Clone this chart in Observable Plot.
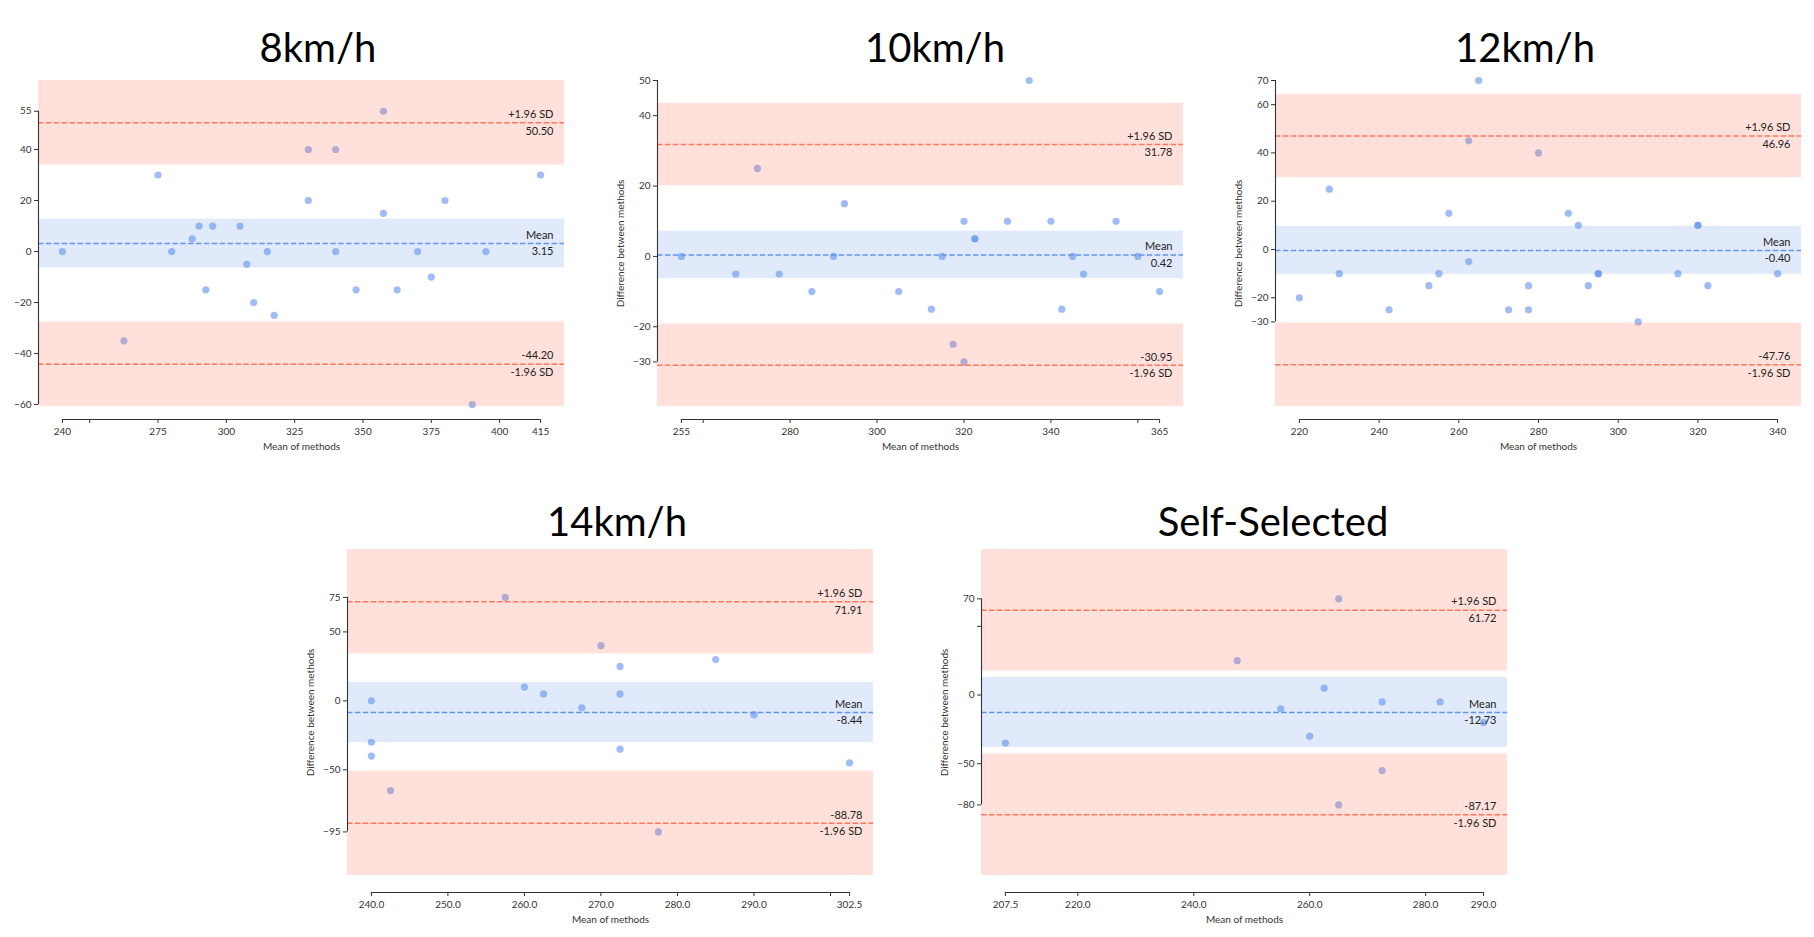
<!DOCTYPE html>
<html><head><meta charset="utf-8">
<script src="https://cdn.jsdelivr.net/npm/d3@7"></script>
<script src="https://cdn.jsdelivr.net/npm/@observablehq/plot@0.6"></script>
<style>
html,body{margin:0;padding:0;background:#fff;}
#page{position:relative;width:1814px;height:937px;overflow:hidden;}
.panel{position:absolute;}
#titles{position:absolute;left:0;top:0;pointer-events:none;}
</style></head><body><div id="page"></div>
<script>
// ---------- data ----------
const titles = ["8km/h", "10km/h", "12km/h", "14km/h", "Self-Selected"];

const means8 = [240, 262.5, 275, 280, 287.5, 290, 292.5, 295, 305, 307.5, 310, 315, 317.5, 330, 330, 340, 340, 347.5, 357.5, 357.5, 362.5, 370, 375, 380, 390, 395, 415];
const diffs8 = [0, -35, 30, 0, 5, 10, -15, 10, 10, -5, -20, 0, -25, 40, 20, 40, 0, -15, 55, 15, -15, 0, -10, 20, -60, 0, 30];

const means10 = [255, 267.5, 272.5, 277.5, 285, 290, 292.5, 305, 312.5, 315, 317.5, 320, 320, 322.5, 322.5, 330, 335, 340, 342.5, 345, 347.5, 355, 360, 365];
const diffs10 = [0, -5, 25, -5, -10, 0, 15, -10, -15, 0, -25, 10, -30, 5, 5, 10, 50, 10, -15, 0, -5, 10, 0, -10];

const means12 = [220, 227.5, 230, 242.5, 252.5, 255, 257.5, 262.5, 262.5, 265, 272.5, 277.5, 277.5, 280, 287.5, 290, 292.5, 295, 295, 305, 315, 320, 320, 322.5, 340];
const diffs12 = [-20, 25, -10, -25, -15, -10, 15, -5, 45, 70, -25, -15, -25, 40, 15, 10, -15, -10, -10, -30, -10, 10, 10, -15, -10];

const means14 = [240, 240, 240, 242.5, 257.5, 260, 262.5, 267.5, 270, 272.5, 272.5, 272.5, 277.5, 285, 290, 302.5];
const diffs14 = [0, -30, -40, -65, 75, 10, 5, -5, 40, 25, 5, -35, -95, 30, -10, -45];

const meansSelf = [207.5, 247.5, 255, 260, 262.5, 265, 265, 272.5, 272.5, 282.5, 290];
const diffsSelf = [-35, 25, -10, -30, 5, 70, -80, -5, -55, -5, -20];

const meanDiff = [3.15, 0.42, -0.40, -8.44, -12.73];
const upperLoA = [50.50, 31.78, 46.96, 71.91, 61.72];
const lowerLoA = [-44.20, -30.95, -47.76, -88.78, -87.17];
const meanCI  = [[-6.41, 12.71], [-6.34, 7.18], [-10.37, 9.57], [-30.28, 13.40], [-38.24, 12.78]];
const upperCI = [[33.94, 67.06], [20.07, 43.49], [29.69, 64.23], [34.09, 109.73], [17.53, 105.91]];
const lowerCI = [[-60.76, -27.64], [-42.66, -19.24], [-65.03, -30.49], [-126.60, -50.96], [-131.36, -42.98]];

const yTicks = [[55, 40, 20, 0, -20, -40, -60], [50, 40, 20, 0, -20, -30], [70, 60, 40, 20, 0, -20, -30], [75, 50, 0, -50, -95], [70, 50, 0, -50, -80]];
const yTickLabels = [["55", "40", "20", "0", "−20", "−40", "−60"], ["50", "40", "20", "0", "−20", "−30"], ["70", "60", "40", "20", "0", "−20", "−30"], ["75", "50", "0", "−50", "−95"], ["70", "", "0", "−50", "−80"]];
const xTicks = [[240, 250, 275, 300, 325, 350, 375, 400, 415], [255, 260, 280, 300, 320, 340, 360, 365], [220, 240, 260, 280, 300, 320, 340], [240, 250, 260, 270, 280, 290, 300, 302.5], [207.5, 220, 240, 260, 280, 290]];
const xTickLabels = [["240", "", "275", "300", "325", "350", "375", "400", "415"], ["255", "", "280", "300", "320", "340", "", "365"], ["220", "240", "260", "280", "300", "320", "340"], ["240.0", "250.0", "260.0", "270.0", "280.0", "290.0", "", "302.5"], ["207.5", "220.0", "240.0", "260.0", "280.0", "290.0"]];
const yLabels = [null, "Difference between methods", "Difference between methods", "Difference between methods", "Difference between methods"];
const xLabel = "Mean of methods";

const allMeans = [means8, means10, means12, means14, meansSelf];
const allDiffs = [diffs8, diffs10, diffs12, diffs14, diffsSelf];

// ---------- layout ----------
const axLeft = [38, 657, 1275, 346.5, 981];
const axTop = [80, 80, 80, 549, 549];
const axOff = [13, 13, 13, 17, 17];
const W = 526, H = 326;
const mL = 70, mR = 10, mT = 8, mB = 42;
const titleX = [318, 935, 1525, 617, 1273];
const titleBase = [62, 62, 62, 536, 536];

const loaColor = "#FF6347", meanColor = "#6495ED";
const page = document.getElementById("page");

function panel(i) {
  const OFF = axOff[i];
  const xs = allMeans[i], ys = allDiffs[i];
  const [xmin, xmax] = d3.extent(xs);
  const pad = (xmax - xmin) * 0.05;
  const xDom = [xmin - pad, xmax + pad];
  const yHi = Math.max(d3.max(ys), upperCI[i][1]);
  const yLo = Math.min(d3.min(ys), lowerCI[i][0]);
  const yLoExt = yHi - (yHi - yLo) * (H + OFF) / H;
  const pts = xs.map((x, j) => ({x, y: ys[j]}));
  const xl = new Map(xTicks[i].map((t, j) => [t, xTickLabels[i][j]]));
  const yl = new Map(yTicks[i].map((t, j) => [t, yTickLabels[i][j]]));
  const dash = "5.5,2.4";
  const above = [
    {y: upperLoA[i], t: "+1.96 SD"},
    {y: meanDiff[i], t: "Mean"},
    {y: lowerLoA[i], t: lowerLoA[i].toFixed(2)}
  ];
  const below = [
    {y: upperLoA[i], t: upperLoA[i].toFixed(2)},
    {y: meanDiff[i], t: meanDiff[i].toFixed(2)},
    {y: lowerLoA[i], t: "-1.96 SD"}
  ];
  const marks = [
    Plot.dot(pts, {x: "x", y: "y", r: 3.6, fill: meanColor, fillOpacity: 0.62}),
    Plot.rect([{a: upperCI[i][0], b: upperCI[i][1]}, {a: lowerCI[i][0], b: lowerCI[i][1]}],
      {x1: xDom[0], x2: xDom[1], y1: "a", y2: "b", fill: loaColor, fillOpacity: 0.2}),
    Plot.rect([{a: meanCI[i][0], b: meanCI[i][1]}],
      {x1: xDom[0], x2: xDom[1], y1: "a", y2: "b", fill: meanColor, fillOpacity: 0.2}),
    Plot.ruleY([upperLoA[i], lowerLoA[i]], {stroke: loaColor, strokeOpacity: 0.85, strokeWidth: 1.5, strokeDasharray: dash}),
    Plot.ruleY([meanDiff[i]], {stroke: meanColor, strokeWidth: 1.5, strokeDasharray: dash}),
    Plot.ruleX([xDom[0]], {y1: d3.min(yTicks[i]), y2: d3.max(yTicks[i]), stroke: "#333", strokeWidth: 1.1}),
    Plot.ruleY([yLoExt], {x1: d3.min(xTicks[i]), x2: d3.max(xTicks[i]), stroke: "#333", strokeWidth: 1.1}),
    Plot.axisY({ticks: yTicks[i], tickSize: 4, tickPadding: 3, tickFormat: d => yl.get(d), label: null, fontSize: 10, stroke: "#333"}),
    Plot.axisX({ticks: xTicks[i], tickSize: 4, tickPadding: 4, tickFormat: d => xl.get(d), label: null, fontSize: 10, stroke: "#333"}),
    Plot.text([xLabel], {frameAnchor: "bottom", dy: 27, lineAnchor: "middle", fontSize: 10, fill: "#333"}),
    Plot.text(above, {frameAnchor: "right", y: "y", text: "t", textAnchor: "end", dx: -11, dy: -8.3, lineAnchor: "middle", fontSize: 11, fill: "#222"}),
    Plot.text(below, {frameAnchor: "right", y: "y", text: "t", textAnchor: "end", dx: -11, dy: 8.3, lineAnchor: "middle", fontSize: 11, fill: "#222"})
  ];
  if (yLabels[i]) {
    marks.push(Plot.text([yLabels[i]], {frameAnchor: "left", y: (yLo + yHi) / 2, rotate: -90, dx: -37, textAnchor: "middle", lineAnchor: "middle", fontSize: 10, fill: "#333"}));
  }
  const svg = Plot.plot({
    width: mL + W + mR,
    height: mT + H + OFF + mB,
    marginLeft: mL, marginRight: mR, marginTop: mT, marginBottom: mB,
    x: {domain: xDom},
    y: {domain: [yLoExt, yHi]},
    style: {fontFamily: "Lato, 'Open Sans', sans-serif", fontSize: "10px", color: "#333", background: "transparent", overflow: "visible"},
    marks
  });
  const div = document.createElement("div");
  div.className = "panel";
  div.style.left = (axLeft[i] - mL) + "px";
  div.style.top = (axTop[i] - mT) + "px";
  div.appendChild(svg);
  page.appendChild(div);
}

for (let i = 0; i < 5; i++) panel(i);

// titles
const tsvg = d3.select(page).append("svg").attr("id", "titles").attr("width", 1814).attr("height", 937);
tsvg.selectAll("text").data(titles).join("text")
  .attr("x", (d, i) => titleX[i])
  .attr("y", (d, i) => titleBase[i])
  .attr("text-anchor", "middle")
  .attr("font-family", "Lato, 'Open Sans', sans-serif")
  .attr("font-size", 40)
  .attr("fill", "#000")
  .text(d => d);
</script>
</body></html>
